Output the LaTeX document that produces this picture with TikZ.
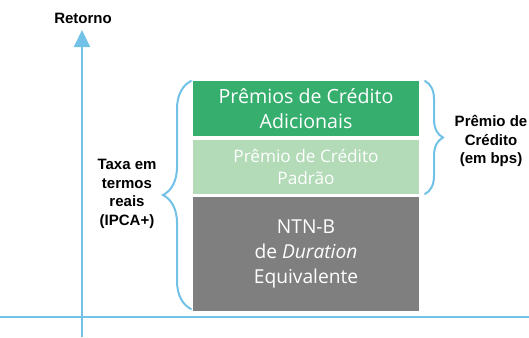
\documentclass[tikz,border=0pt]{standalone}
\usepackage{fontspec}
\setmainfont{Open Sans}
\newfontfamily\lblfont{Liberation Sans}
\usetikzlibrary{arrows.meta,decorations.pathreplacing}
\definecolor{axisblue}{HTML}{72C2E8}
\definecolor{adicgreen}{HTML}{36AE6E}
\definecolor{padgreen}{HTML}{B3DBB8}
\definecolor{ntngray}{HTML}{7F7F7F}
\tikzset{
  premio/.style={inner sep=0pt, minimum width=113pt, text=white, align=center},
  lbl/.style={font=\lblfont\bfseries\fontsize{7.5}{9.25}\selectfont, align=center},
  axis/.style={axisblue, line width=1pt},
  chave/.style={axisblue, line width=1pt, line cap=round, decorate}
}
\begin{document}
\begin{tikzpicture}[x=0.5pt,y=-0.5pt]%Retorno NTN-B e premios de credito
\useasboundingbox (0,0) rectangle (529,337);
% eixos
\coordinate (o) at (82,337);
\coordinate (topo) at (82,30);
\coordinate (xl) at (0,317);
\coordinate (xr) at (529,317);
\draw[axis, -{Triangle[width=8pt,length=8.5pt]}] (o) -- (topo);
\draw[axis] (xl) -- (xr);
\node[lbl] (ret) at (83,18){Retorno};
% blocos
\node[premio, fill=adicgreen, minimum height=27.5pt, font=\fontsize{9.8}{12.5}\selectfont] (adic) at (306,108.5){Prêmios de Crédito\\Adicionais};
\node[premio, fill=padgreen, minimum height=27pt, font=\fontsize{8.6}{11}\selectfont] (pad) at (306,167){Prêmio de Crédito\\Padrão};
\node[premio, fill=ntngray, minimum height=57pt, font=\fontsize{9.6}{12.5}\selectfont] (ntn) at (306,254){NTN-B\\de \textit{Duration}\\Equivalente};
% chaves
\coordinate (cb) at (191,309);
\coordinate (ct) at (191,81);
\draw[chave, decoration={brace, amplitude=14pt}] (cb) -- (ct);
\coordinate (dt) at (425,81);
\coordinate (db) at (425,194);
\draw[chave, decoration={brace, amplitude=9pt}] (dt) -- (db);
\node[lbl] (taxa) at (127,194){Taxa em\\termos\\reais\\(IPCA+)};
\node[lbl] (cred) at (491,141){Prêmio de\\Crédito\\(em bps)};
\end{tikzpicture}
\end{document}
